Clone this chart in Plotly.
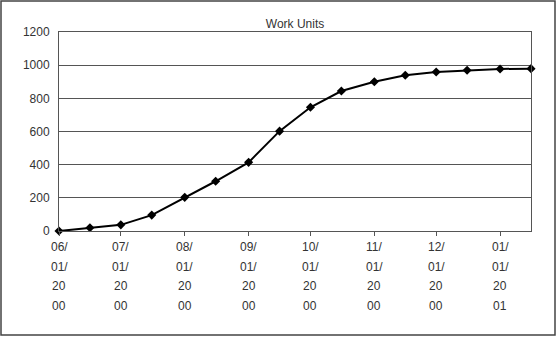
import plotly.graph_objects as go

dates = ["2000-06-01", "2000-06-16", "2000-07-01", "2000-07-16", "2000-08-01", "2000-08-16",
         "2000-09-01", "2000-09-16", "2000-10-01", "2000-10-16", "2000-11-01", "2000-11-16",
         "2000-12-01", "2000-12-16", "2001-01-01", "2001-01-16"]
work_units = [0, 20, 37, 96, 203, 300, 414, 602, 746, 844, 900, 939, 959, 969, 977, 979]

tick_dates = ["2000-06-01", "2000-07-01", "2000-08-01", "2000-09-01", "2000-10-01",
              "2000-11-01", "2000-12-01", "2001-01-01"]
tick_labels = ["06/01/2000", "07/01/2000", "08/01/2000", "09/01/2000", "10/01/2000",
               "11/01/2000", "12/01/2000", "01/01/2001"]
y_ticks = [0, 200, 400, 600, 800, 1000, 1200]

FONT = "Liberation Sans, Arial, sans-serif"
TXT = "#333333"

fig = go.Figure()
fig.add_trace(go.Scatter(
    x=dates, y=work_units, mode="lines+markers",
    line=dict(color="#000000", width=2),
    marker=dict(symbol="diamond", size=7, color="#000000"),
    cliponaxis=False, showlegend=False,
))

annotations = []
for d, lab in zip(tick_dates, tick_labels):
    parts = [lab[0:3], lab[3:6], lab[6:8], lab[8:10]]
    for j, p in enumerate(parts):
        annotations.append(dict(
            x=d, xref="x", y=0, yref="paper", yanchor="middle", xanchor="center",
            yshift=-16 - 19.5 * j, text=p, showarrow=False,
            font=dict(family=FONT, size=12, color=TXT),
        ))

fig.update_layout(
    width=560, height=338,
    margin=dict(l=59, r=29, t=32, b=107),
    paper_bgcolor="white", plot_bgcolor="white",
    font=dict(family=FONT, size=12, color=TXT),
    title=dict(text="Work Units", x=0.5, xref="paper", xanchor="center",
               y=1, yref="paper", yanchor="bottom", pad=dict(b=4),
               font=dict(family=FONT, size=12, color=TXT)),
    annotations=annotations,
    xaxis=dict(type="date", range=[dates[0], dates[-1]],
               tickvals=tick_dates, showticklabels=False,
               ticks="outside", ticklen=4, tickcolor="#555555",
               showgrid=False, zeroline=False,
               showline=True, linecolor="#555555", linewidth=1, mirror=True),
    yaxis=dict(range=[0, 1200], tickvals=y_ticks,
               tickfont=dict(family=FONT, size=12, color=TXT),
               ticks="", ticklabelstandoff=6,
               showgrid=True, gridcolor="#555555", gridwidth=1, zeroline=False,
               showline=True, linecolor="#555555", linewidth=1, mirror=True),
    shapes=[dict(type="rect", xref="paper", yref="paper",
                 x0=-58 / 472, x1=496 / 472, y0=-104 / 199, y1=230 / 199,
                 line=dict(color="#444444", width=1.5), fillcolor="rgba(0,0,0,0)")],
)

fig.write_html("out.html")
